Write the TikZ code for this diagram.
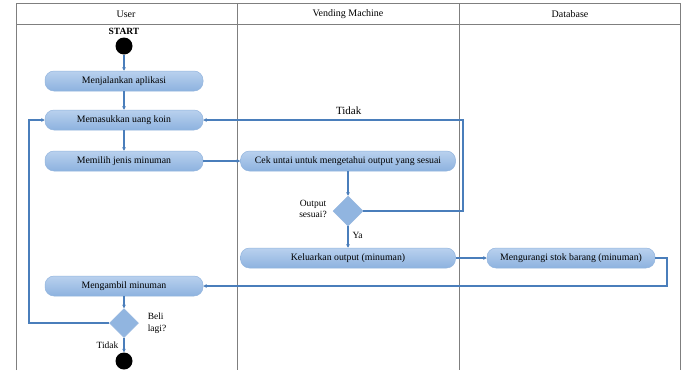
\documentclass[tikz,border=0pt]{standalone}
\usepackage{fontspec}
\setmainfont{Liberation Serif}
\usetikzlibrary{arrows.meta,shapes.geometric,calc}
\definecolor{lane}{HTML}{7F7F7F}
\definecolor{flow}{HTML}{4A7EBB}
\definecolor{boxtop}{HTML}{B9D1EE}
\definecolor{boxbot}{HTML}{8DB2DF}
\definecolor{boxline}{HTML}{93B5DE}
\tikzset{
  act/.style={rectangle, rounded corners=9pt, minimum width=158pt, minimum height=20pt,
    top color=boxtop, bottom color=boxbot, draw=boxline, line width=0.5pt,
    font=\fontsize{9.8}{11}\selectfont, inner sep=1pt},
  wide/.style={act, minimum width=215pt},
  choice/.style={diamond, minimum width=30pt, minimum height=30pt, inner sep=0pt,
    fill=boxbot!90!boxtop, draw=boxline, line width=0.5pt},
  dot/.style={circle, fill=black, minimum size=17pt, inner sep=0pt},
  flowline/.style={draw=flow, line width=1.1pt, -{Stealth[length=3.5pt,width=3.5pt]}},
  lbl/.style={font=\fontsize{9.5}{11.5}\selectfont, inner sep=0pt},
  lanehead/.style={font=\fontsize{10}{12}\selectfont},
}
\begin{document}
\begin{tikzpicture}[x=1pt,y=-1pt]
\useasboundingbox (0,0) rectangle (685,370);
\fill[white] (0,0) rectangle (685,370);

% swimlanes
\draw[lane, line width=0.8pt] (16,370) -- (16,3) -- (680,3) -- (680,370);
\draw[lane, line width=0.8pt] (16,24) -- (680,24);
\draw[lane, line width=0.8pt] (237,3) -- (237,370);
\draw[lane, line width=0.8pt] (459,3) -- (459,370);
\node[lanehead] (hUser) at (126,14) {User};
\node[lanehead] (hVM) at (348,14) {Vending Machine};
\node[lanehead] (hDB) at (570,14) {Database};

% activities
\node[font=\fontsize{9.5}{11}\selectfont\bfseries] (startlbl) at (124,31) {START};
\node[dot] (start) at (124,46) {};
\node[act] (a1) at (124,81) {Menjalankan aplikasi};
\node[act] (a2) at (124,120) {Memasukkan uang koin};
\node[act] (a3) at (124,161) {Memilih jenis minuman};
\node[wide] (cek) at (348,161) {Cek untai untuk mengetahui output yang sesuai};
\node[choice] (d1) at (348,211) {};
\node[lbl, align=center] (d1lbl) at (313,209) {Output\\sesuai?};
\node[wide] (out) at (348,258) {Keluarkan output (minuman)};
\node[act, minimum width=168pt] (stok) at (571,258) {Mengurangi stok barang (minuman)};
\node[act] (take) at (124,286) {Mengambil minuman};
\node[choice, minimum width=29pt, minimum height=29pt] (d2) at (124,323) {};
\node[lbl, align=left] (d2lbl) at (157,323) {Beli\\lagi?};
\node[dot] (stop) at (124,361) {};

% bend points of the loops
\coordinate (rNo) at (463,0);
\coordinate (rDb) at (667,0);
\coordinate (lLoop) at (29,0);

% flows
\draw[flowline] (start) -- (a1);
\draw[flowline] (a1) -- (a2);
\draw[flowline] (a2) -- (a3);
\draw[flowline] (a3) -- (cek);
\draw[flowline] (cek) -- (d1);
\draw[flowline] (d1) -- node[lbl, right=4pt, pos=0.45] (ya) {Ya} (out);
\draw[flowline] (d1.east) -- (d1.east -| rNo) |- (a2.east)
  node[lbl, font=\fontsize{11}{13}\selectfont, pos=0.72, above=5pt] (tidak1) {Tidak};
\draw[flowline] (out) -- (stok);
\draw[flowline] (stok.east) -- (stok.east -| rDb) |- (take.east);
\draw[flowline] (take) -- (d2);
\draw[flowline] (d2.west) -- (d2.west -| lLoop) |- (a2.west);
\draw[flowline] (d2) -- node[lbl, left=5pt, pos=0.5] (tidak2) {Tidak} (stop);
\end{tikzpicture}
\end{document}
